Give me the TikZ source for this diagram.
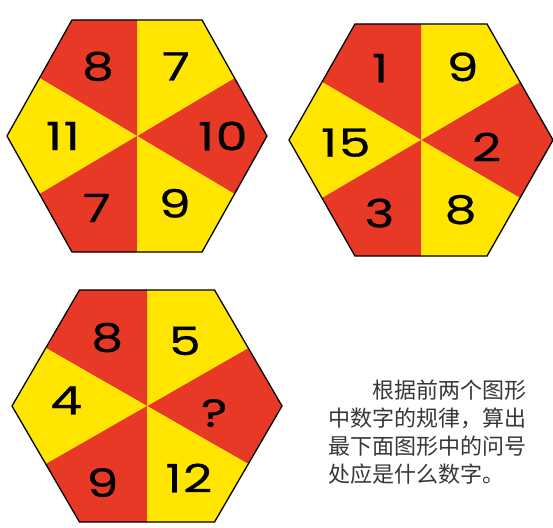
\documentclass[tikz,border=0pt]{standalone}
\usepackage{fontspec}
\newfontfamily\cjk{Noto Sans CJK SC}
\newfontfamily\digitfont[FakeBold=0.6, FakeStretch=1.3, LetterSpace=4]{Poppins}
\definecolor{hexred}{RGB}{232,57,38}
\definecolor{hexyellow}{RGB}{255,229,0}
\definecolor{tasktext}{RGB}{55,55,55}

\newcommand*{\hexry}{134pt}

\begin{document}
\begin{tikzpicture}
[
	x=1pt, y=-1pt,
	numlabel/.style={font=\digitfont\fontsize{39}{39}\selectfont, inner sep=0pt},
	hexrim/.style={draw=black, line width=1.3pt, line join=miter}
]

	\useasboundingbox[fill=white] (0,0) rectangle (553,527);

	% top left hexagon
	\begin{scope}[shift={(137,136)}, x=130pt, y=\hexry]
		\foreach \ang/\col/\num/\lang/\dist [count=\i] in
			{0/hexred/10/0/0.66, 60/hexyellow/7/60/0.6, 120/hexred/8/120/0.6,
			 180/hexyellow/11/180/0.57, 240/hexred/7/240/0.62, 300/hexyellow/9/300/0.58}
		{
			\fill[\col] (0,0) -- (\ang-30:0.866) -- (\ang:1) -- (\ang+30:0.866) -- cycle;
			\node[numlabel] (a\i) at (\lang:\dist) {\num};
		}
		\draw[hexrim] (0:1) -- (60:1) -- (120:1) -- (180:1) -- (240:1) -- (300:1) -- cycle;
	\end{scope}

	% top right hexagon
	\begin{scope}[shift={(421,140)}, x=132pt, y=\hexry]
		\foreach \ang/\col/\num/\lang/\dist [count=\i] in
			{0/hexred/2/-6/0.5, 60/hexyellow/9/60/0.63, 120/hexred/1/120/0.62,
			 180/hexyellow/15/182/0.57, 240/hexred/3/240/0.63, 300/hexyellow/8/300/0.6}
		{
			\fill[\col] (0,0) -- (\ang-30:0.866) -- (\ang:1) -- (\ang+30:0.866) -- cycle;
			\node[numlabel] (b\i) at (\lang:\dist) {\num};
		}
		\draw[hexrim] (0:1) -- (60:1) -- (120:1) -- (180:1) -- (240:1) -- (300:1) -- cycle;
	\end{scope}

	% bottom hexagon with the question mark
	\begin{scope}[shift={(147,406)}, x=135pt, y=\hexry]
		\foreach \ang/\col/\num/\lang/\dist [count=\i] in
			{0/hexred/?/-6/0.5, 60/hexyellow/5/60/0.56, 120/hexred/8/120/0.59,
			 180/hexyellow/4/176/0.6, 240/hexred/9/240/0.66, 300/hexyellow/12/300/0.62}
		{
			\fill[\col] (0,0) -- (\ang-30:0.866) -- (\ang:1) -- (\ang+30:0.866) -- cycle;
			\node[numlabel] (c\i) at (\lang:\dist) {\num};
		}
		\draw[hexrim] (0:1) -- (60:1) -- (120:1) -- (180:1) -- (240:1) -- (300:1) -- cycle;
	\end{scope}

	% question text
	\node[anchor=north west, inner sep=0pt, align=left, text=tasktext,
		font=\cjk\fontsize{22}{28}\selectfont] (task) at (328,380)
		{\hspace*{2em}根据前两个图形\\中数字的规律，算出\\最下面图形中的问号\\处应是什么数字。};

\end{tikzpicture}
\end{document}
